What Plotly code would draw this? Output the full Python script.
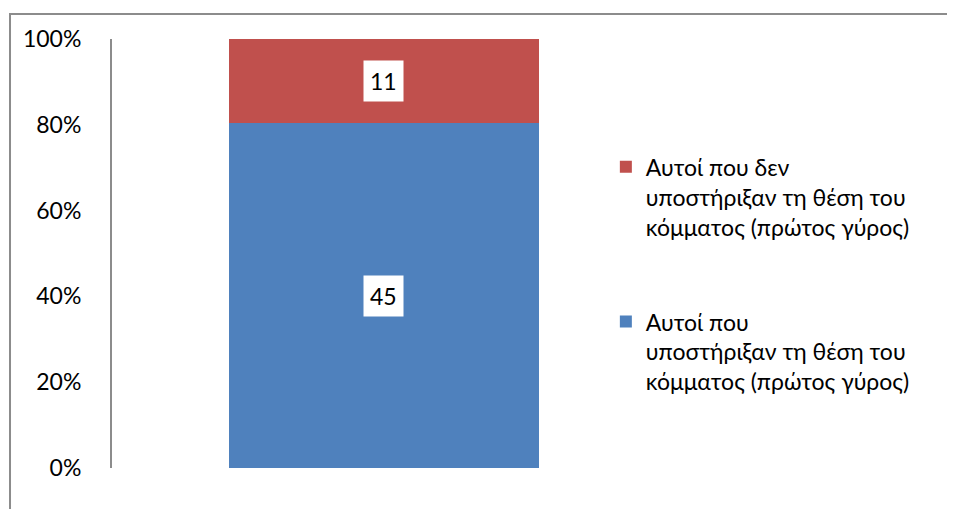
import plotly.graph_objects as go

# data
category = [0]
series_names = [
    "Αυτοί που<br>υποστήριξαν τη θέση του<br>κόμματος (πρώτος γύρος)",
    "Αυτοί που δεν<br>υποστήριξαν τη θέση του<br>κόμματος (πρώτος γύρος)",
]
counts = [45, 11]
colors = ["#4F81BD", "#C0504D"]
legend_order = [2, 1]
y_ticks = [0, 0.2, 0.4, 0.6, 0.8, 1.0]

total = sum(counts)
shares = [c / total for c in counts]

FONT = "Lato, 'Noto Sans', sans-serif"

fig = go.Figure()
base = 0
for i, (name, share) in enumerate(zip(series_names, shares)):
    fig.add_trace(go.Bar(
        x=category, y=[share], width=1,
        name=name, marker=dict(color=colors[i], line=dict(width=0)),
        legendgroup=str(i), legendrank=legend_order[i], hoverinfo="skip",
    ))
    # white boxed data label in the middle of the segment
    fig.add_annotation(
        x=category[0], y=base + share / 2, text=str(counts[i]),
        showarrow=False, bgcolor="white", borderpad=6,
        font=dict(family=FONT, size=23, color="black"),
    )
    base += share

# outer chart border (runs off the right/bottom edges)
fig.add_shape(type="rect", xref="paper", yref="paper",
              x0=-0.209, x1=1.8, y0=-0.3, y1=1.058,
              line=dict(color="#8c8c8c", width=2), layer="below")

fig.update_layout(
    width=947, height=501,
    margin=dict(l=104, r=355, t=31, b=41),
    paper_bgcolor="white", plot_bgcolor="white",
    barmode="stack", bargap=0,
    font=dict(family=FONT, size=23, color="black"),
    showlegend=True,
    legend=dict(
        x=1.012, y=0.752, xanchor="left", yanchor="top",
        traceorder="grouped", tracegroupgap=62, valign="top",
        font=dict(family=FONT, size=23, color="black"),
        bgcolor="rgba(0,0,0,0)", itemclick=False,
    ),
    xaxis=dict(range=[-0.877, 0.697], visible=False, fixedrange=True),
    yaxis=dict(
        range=[0, 1], tickvals=y_ticks, tickformat=".0%",
        showline=True, linecolor="#8c8c8c", linewidth=2,
        showgrid=False, zeroline=False, ticks="",
        ticklabelstandoff=24,
    ),
)

fig.write_html("out.html")
